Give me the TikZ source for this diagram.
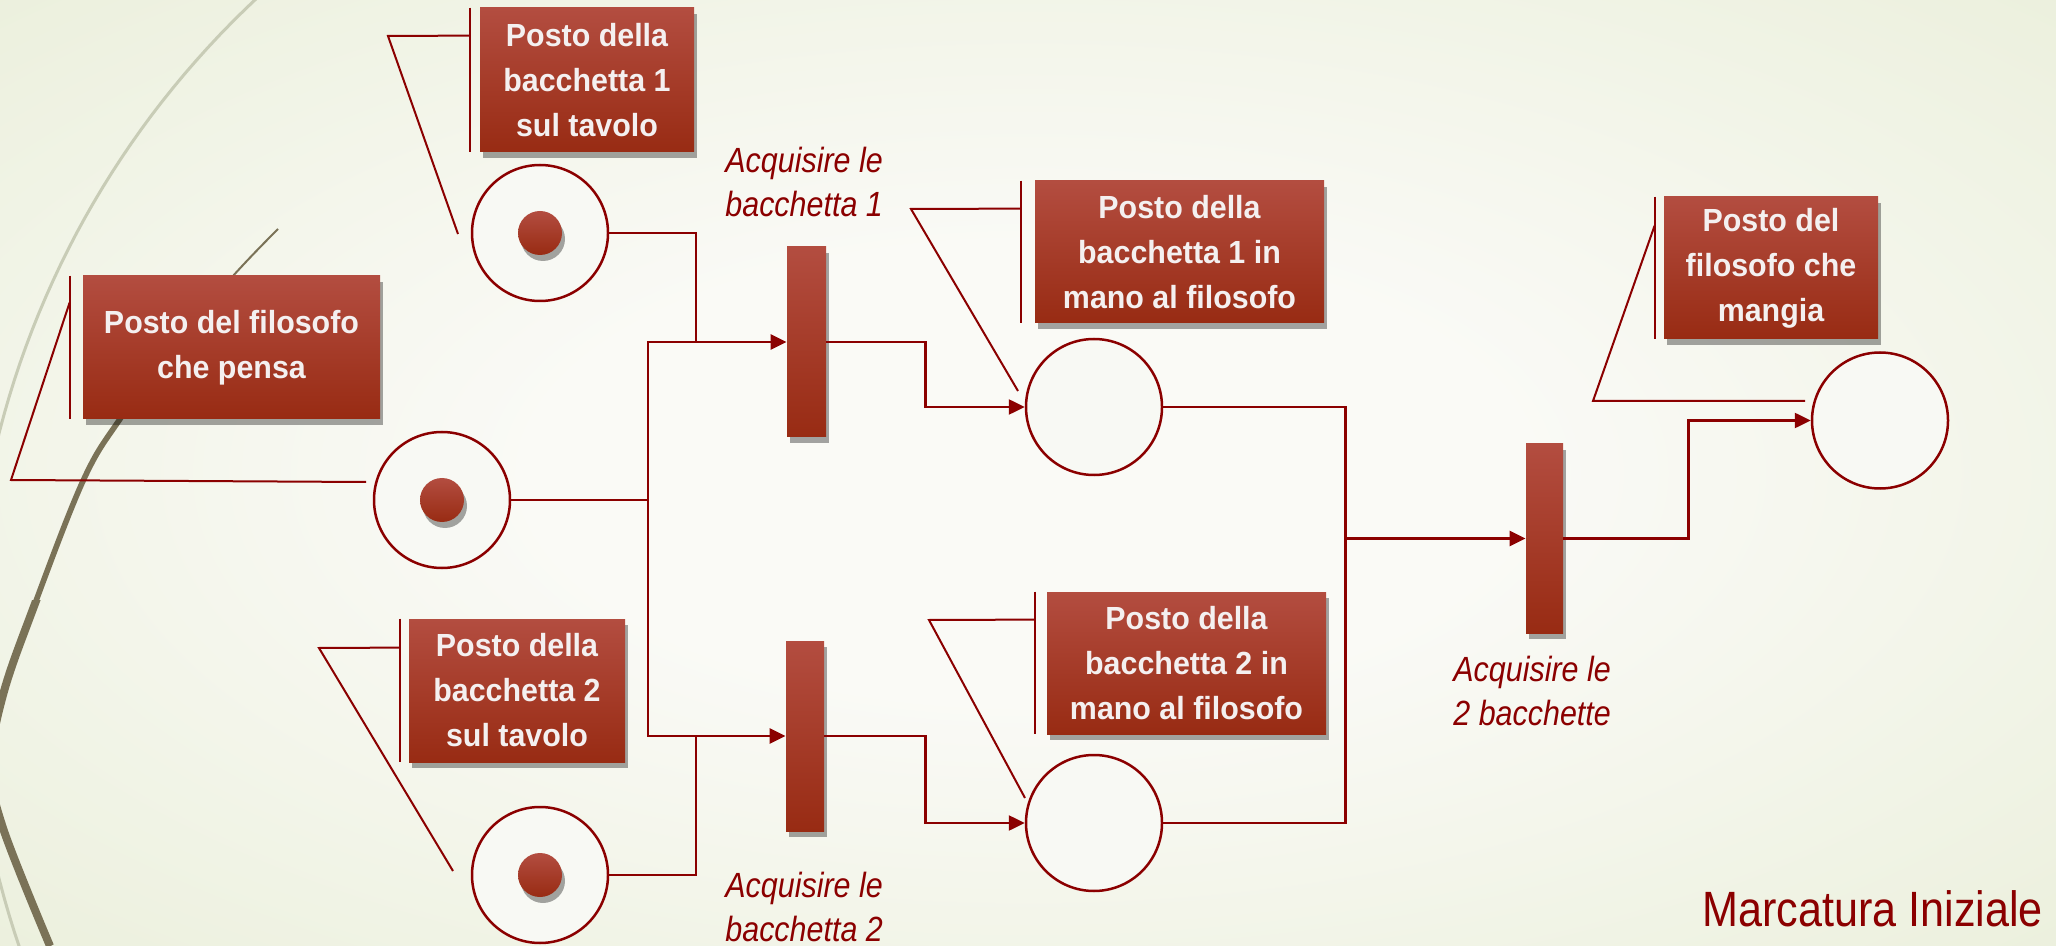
\documentclass[tikz,border=0pt]{standalone}
\usepackage{fontspec}
\setmainfont{Liberation Sans}
\newfontfamily\boxfont[FakeStretch=0.95]{Liberation Sans}
\newfontfamily\labfont[FakeStretch=0.87]{Liberation Sans}
\usetikzlibrary{arrows.meta,shadows,calc}
\definecolor{bgin}{HTML}{FAFAF6}
\definecolor{bgout}{HTML}{E3EACE}
\definecolor{redtop}{HTML}{B34D40}
\definecolor{redbot}{HTML}{982B13}
\definecolor{lnred}{HTML}{8B0000}
\definecolor{txtw}{HTML}{F4F0F0}
\definecolor{olive}{HTML}{7A7257}
\definecolor{pale}{HTML}{C8CCB6}
\definecolor{placefill}{HTML}{F8F9F4}
\pgfdeclareradialshading{bgshade}{\pgfpoint{0bp}{0bp}}{color(0bp)=(bgin); color(12bp)=(bgin); color(50bp)=(bgout)}
\tikzset{
  shad/.style={drop shadow={shadow xshift=1.5pt,shadow yshift=-3pt,opacity=0.35,fill=black}},
  lbox/.style={rectangle, top color=redtop, bottom color=redbot, text=txtw,
    font=\boxfont\bfseries\fontsize{16pt}{22.5pt}\selectfont, align=center, inner sep=0pt, shad},
  ttrans/.style={rectangle, top color=redtop, bottom color=redbot, inner sep=0pt, shad},
  pplace/.style={circle, draw=lnred, line width=1.25pt, fill=placefill, minimum size=68pt, inner sep=0pt},
  ttoken/.style={circle, top color=redtop, bottom color=redbot, minimum size=22pt, inner sep=0pt, shad},
  conn/.style={draw=lnred, line width=1.25pt},
  arrowed/.style={-{Triangle[length=8pt,width=7.5pt]}},
  callout/.style={draw=lnred, line width=1pt},
  accent/.style={draw=lnred, line width=1pt},
  tlabel/.style={text=lnred, font=\labfont\itshape\fontsize{17.5pt}{22pt}\selectfont, align=left, inner sep=0pt, anchor=west},
}
\begin{document}
\begin{tikzpicture}[x=0.5pt,y=-0.5pt]
\useasboundingbox (0,0) rectangle (2056,946);
\shade[shading=bgshade] (0,0) rectangle (2056,946);

% decorative arcs
\begin{scope}
  \clip (0,0) rectangle (2056,946);
  \draw[pale, line width=1.5pt] plot[domain=161:227, samples=60] ({871+900*cos(\x)},{656+900*sin(\x)});
  \draw[olive, line width=1pt] plot[smooth, tension=0.6] coordinates {(278,229) (233,276) (175,345) (120,419) (83,481) (33,609) (3,695) (-9,765) (3,828) (50,946)};
  \begin{scope}
    \clip (-50,390) rectangle (420,1000);
    \draw[olive, line width=2.8pt] plot[smooth, tension=0.6] coordinates {(278,229) (233,276) (175,345) (120,419) (83,481) (33,609) (3,695) (-9,765) (3,828) (50,946)};
  \end{scope}
  \begin{scope}
    \clip (-50,600) rectangle (420,1000);
    \draw[olive, line width=4pt] plot[smooth, tension=0.6] coordinates {(278,229) (233,276) (175,345) (120,419) (83,481) (33,609) (3,695) (-9,765) (3,828) (50,946)};
  \end{scope}
\end{scope}

% label boxes
\node[lbox, minimum width=107pt, minimum height=72pt] (bB1) at (587,80) {Posto della\\bacchetta 1\\sul tavolo};
\node[lbox, minimum width=148.5pt, minimum height=71.5pt] (bP) at (231.5,347.5) {Posto del filosofo\\che pensa};
\node[lbox, minimum width=108pt, minimum height=71.5pt] (bB2) at (517,690.5) {Posto della\\bacchetta 2\\sul tavolo};
\node[lbox, minimum width=144.5pt, minimum height=71pt] (bH1) at (1179.5,252) {Posto della\\bacchetta 1 in\\mano al filosofo};
\node[lbox, minimum width=139.5pt, minimum height=71pt] (bH2) at (1186.5,663) {Posto della\\bacchetta 2 in\\mano al filosofo};
\node[lbox, minimum width=107pt, minimum height=71pt] (bE) at (1771,268) {Posto del\\filosofo che\\mangia};

% accent bars
\draw[accent] ([xshift=-5pt]bB1.north west) -- ([xshift=-5pt]bB1.south west);
\draw[accent] ([xshift=-6.5pt]bP.north west) -- ([xshift=-6.5pt]bP.south west);
\draw[accent] ([xshift=-4.5pt]bB2.north west) -- ([xshift=-4.5pt]bB2.south west);
\draw[accent] ([xshift=-7pt]bH1.north west) -- ([xshift=-7pt]bH1.south west);
\draw[accent] ([xshift=-6pt]bH2.north west) -- ([xshift=-6pt]bH2.south west);
\draw[accent] ([xshift=-4.5pt]bE.north west) -- ([xshift=-4.5pt]bE.south west);

% callout lines
\coordinate (kB1) at (388,36);   \coordinate (cB1) at (458,234);
\coordinate (kP) at (11,480);    \coordinate (cP) at (366,482);
\coordinate (kB2) at (319,648);  \coordinate (cB2) at (453,871);
\coordinate (kH1) at (911,209);  \coordinate (cH1) at (1018,391);
\coordinate (kH2) at (929,620);  \coordinate (cH2) at (1025,798);
\coordinate (kE) at (1593,401);  \coordinate (cE) at (1805,401);
\draw[callout] ([xshift=-5pt,yshift=-14pt]bB1.north west) -- (kB1) -- (cB1);
\draw[callout] ([xshift=-6.5pt,yshift=-13.5pt]bP.north west) -- (kP) -- (cP);
\draw[callout] ([xshift=-4.5pt,yshift=-14.5pt]bB2.north west) -- (kB2) -- (cB2);
\draw[callout] ([xshift=-7pt,yshift=-14pt]bH1.north west) -- (kH1) -- (cH1);
\draw[callout] ([xshift=-6pt,yshift=-14pt]bH2.north west) -- (kH2) -- (cH2);
\draw[callout] ([xshift=-4.5pt,yshift=-14.5pt]bE.north west) -- (kE) -- (cE);

% places
\node[pplace] (pB1) at (540,233) {};
\node[pplace] (pP) at (442,500) {};
\node[pplace] (pB2) at (540,875) {};
\node[pplace] (pH1) at (1094,407) {};
\node[pplace] (pH2) at (1094,823) {};
\node[pplace] (pE) at (1880,420.5) {};
% tokens
\node[ttoken] (k1) at (pB1.center) {};
\node[ttoken] (k2) at (pP.center) {};
\node[ttoken] (k3) at (pB2.center) {};

% transitions
\node[ttrans, minimum width=19.5pt, minimum height=95pt] (t1) at (806.5,342) {};
\node[ttrans, minimum width=19pt, minimum height=95pt] (t2) at (805,736) {};
\node[ttrans, minimum width=18.5pt, minimum height=94.5pt] (t3) at (1544.5,538.5) {};

% connectors
\coordinate (s1) at (648,500);
\coordinate (j1) at (696,342);
\coordinate (j2) at (696,736);
\draw[conn] (pP.east) -- (s1);
\draw[conn, arrowed] (s1) |- (t1.west);
\draw[conn, arrowed] (s1) |- (t2.west);
\draw[conn] (pB1.east) -| (j1);
\draw[conn] (pB2.east) -| (j2);
\draw[conn, arrowed] (t1.east) -- ++(99,0) |- (pH1.west);
\draw[conn, arrowed] (t2.east) -- ++(101,0) |- (pH2.west);
\draw[conn, arrowed] (pH1.east) -- ++(182,0) coordinate (m1) |- (t3.west);
\draw[conn] (pH2.east) -| (m1);
\draw[conn, arrowed] (t3.east) -- ++(125,0) |- (pE.west);

% transition labels
\node[tlabel] (l1) at (725,182) {Acquisire le\\bacchetta 1};
\node[tlabel] (l2) at (725,907) {Acquisire le\\bacchetta 2};
\node[tlabel] (l3) at (1453,691) {Acquisire le\\2 bacchette};

\node[text=lnred, font=\labfont\fontsize{24.8pt}{30pt}\selectfont, inner sep=0pt, anchor=base west] (title) at (1702,926) {Marcatura Iniziale};
\end{tikzpicture}
\end{document}
